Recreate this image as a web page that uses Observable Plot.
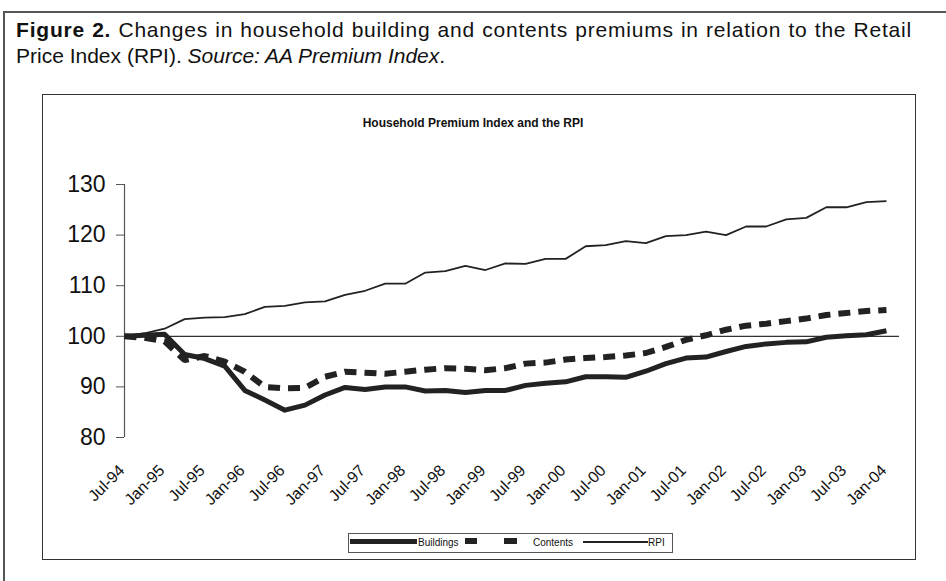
<!DOCTYPE html>
<html>
<head>
<meta charset="utf-8">
<script src="https://cdn.jsdelivr.net/npm/d3@7"></script>
<script src="https://cdn.jsdelivr.net/npm/@observablehq/plot@0.6"></script>
<style>
  html, body { margin: 0; padding: 0; background: #fff; }
  body { width: 946px; height: 581px; position: relative; overflow: hidden; font-family: "Liberation Sans", Arial, sans-serif; color: #111; }
  #outer { position: absolute; left: 3px; top: 11px; width: 960px; height: 600px; border-left: 2px solid #555; border-top: 2px solid #555; }
  #caption { position: absolute; left: 16px; top: 17px; width: 896px; font-size: 21px; line-height: 26px; color: #111; }
  #caption .l1 { display: block; letter-spacing: 0.8px; text-align: justify; text-align-last: justify; white-space: nowrap; }
  #caption .l2 { display: block; white-space: nowrap; }
  #box { position: absolute; left: 42px; top: 94px; width: 874px; height: 466px; box-sizing: border-box; border: 1.5px solid #333; }
  #ctitle { position: absolute; left: 0; width: 946px; top: 116px; text-align: center; font-weight: bold; font-size: 12px; line-height: 14px; }
  #chart { position: absolute; left: 43px; top: 95px; }
  #legend { position: absolute; left: 348px; top: 533px; width: 325px; height: 20px; box-sizing: border-box; border: 1px solid #555; font-size: 10px; }
  #legend span { position: absolute; }
  .lt { top: 3px; line-height: 12px; }
</style>
</head>
<body>
<div id="outer"></div>
<div id="caption"><span class="l1"><b>Figure 2.</b> Changes in household building and contents premiums in relation to the Retail</span><span class="l2">Price Index (RPI). <i>Source: AA Premium Index</i>.</span></div>
<div id="box"></div>
<div id="ctitle">Household Premium Index and the RPI</div>
<div id="chart"></div>
<div id="legend">
  <span style="left:1px; top:5px; width:67px; height:5px; background:#222;"></span>
  <span class="lt" style="left:69px;">Buildings</span>
  <span style="left:116px; top:4px; width:12px; height:6px; background:#222;"></span>
  <span style="left:155px; top:4px; width:13px; height:6px; background:#222;"></span>
  <span class="lt" style="left:184px;">Contents</span>
  <span style="left:234px; top:7px; width:65px; height:2px; background:#222;"></span>
  <span class="lt" style="left:299px;">RPI</span>
</div>
<script>
const quarters = ["Jul-94","Oct-94","Jan-95","Apr-95","Jul-95","Oct-95","Jan-96","Apr-96","Jul-96","Oct-96",
  "Jan-97","Apr-97","Jul-97","Oct-97","Jan-98","Apr-98","Jul-98","Oct-98","Jan-99","Apr-99",
  "Jul-99","Oct-99","Jan-00","Apr-00","Jul-00","Oct-00","Jan-01","Apr-01","Jul-01","Oct-01",
  "Jan-02","Apr-02","Jul-02","Oct-02","Jan-03","Apr-03","Jul-03","Oct-03","Jan-04"];
const tickLabels = ["Jul-94","Jan-95","Jul-95","Jan-96","Jul-96","Jan-97","Jul-97","Jan-98","Jul-98","Jan-99",
  "Jul-99","Jan-00","Jul-00","Jan-01","Jul-01","Jan-02","Jul-02","Jan-03","Jul-03","Jan-04"];
const yTicks = [80, 90, 100, 110, 120, 130];
const buildings = [100.0,100.2,100.4,96.4,95.6,94.1,89.3,87.4,85.4,86.4,
  88.4,89.9,89.5,90.0,90.0,89.2,89.3,88.9,89.3,89.3,
  90.3,90.7,91.0,92.0,92.0,91.9,93.1,94.6,95.7,95.9,
  97.0,98.0,98.5,98.8,98.9,99.8,100.1,100.3,101.1];
const contents = [100.0,99.7,99.0,95.3,96.1,95.0,93.0,90.0,89.7,89.8,
  92.0,93.0,92.8,92.6,93.0,93.4,93.7,93.6,93.3,93.7,
  94.6,94.8,95.4,95.7,95.9,96.2,96.7,97.9,99.3,100.2,
  101.3,102.1,102.5,103.0,103.5,104.2,104.6,105.0,105.2];
const rpi = [100.0,100.6,101.5,103.4,103.7,103.8,104.4,105.8,106.0,106.7,
  106.9,108.2,109.0,110.4,110.4,112.6,112.9,113.9,113.1,114.4,
  114.3,115.3,115.3,117.8,118.0,118.8,118.4,119.8,120.0,120.7,
  120.0,121.7,121.7,123.1,123.4,125.5,125.5,126.5,126.7];

const rows = quarters.map((q, i) => ({i, q, buildings: buildings[i], contents: contents[i], rpi: rpi[i]}));
const tickRows = tickLabels.map(t => ({i: quarters.indexOf(t), label: t}));

const plot = Plot.plot({
  width: 872,
  height: 464,
  marginLeft: 81,
  marginRight: 16,
  marginTop: 89,
  marginBottom: 122,
  x: {type: "linear", domain: [0, 38.65], axis: null},
  y: {domain: [80, 130], axis: null},
  style: {fontFamily: "'Liberation Sans', Arial, sans-serif", background: "transparent", color: "#111", overflow: "visible"},
  marks: [
    Plot.ruleY([100], {stroke: "#333", strokeWidth: 1.2}),
    Plot.ruleX([0], {y1: 80, y2: 130, stroke: "#555", strokeWidth: 1.2}),
    Plot.axisY({ticks: yTicks, tickSize: 8, tickPadding: 11, fontSize: 23, stroke: "#555", label: null}),
    Plot.text(tickRows, {x: "i", text: "label", frameAnchor: "bottom", rotate: -45, textAnchor: "end", lineAnchor: "bottom", dy: 34, dx: 1, fontSize: 16, fill: "#111"}),
    Plot.line(rows, {x: "i", y: "contents", stroke: "#222", strokeWidth: 6, strokeDasharray: "12,8", strokeLinecap: "butt", strokeLinejoin: "miter"}),
    Plot.line(rows, {x: "i", y: "buildings", stroke: "#222", strokeWidth: 5, strokeLinecap: "butt", strokeLinejoin: "round"}),
    Plot.line(rows, {x: "i", y: "rpi", stroke: "#222", strokeWidth: 1.8, strokeLinecap: "butt"})
  ]
});
document.getElementById("chart").appendChild(plot);
</script>
</body>
</html>
